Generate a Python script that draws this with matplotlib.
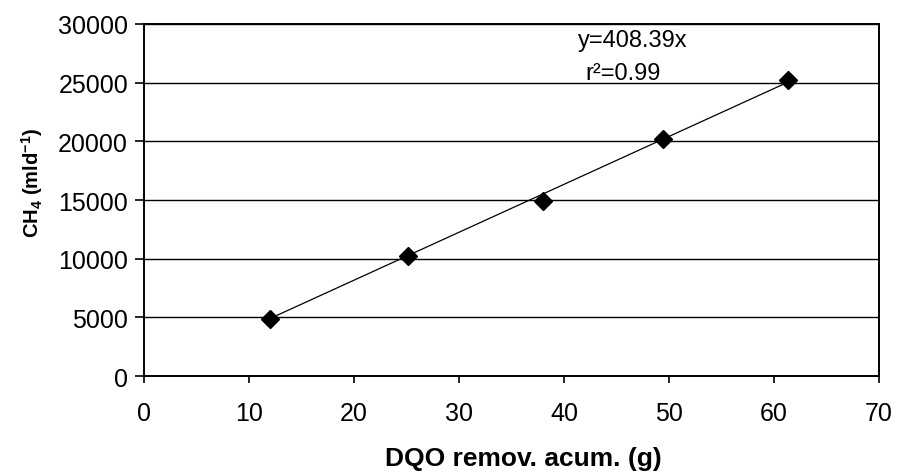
import matplotlib
matplotlib.use("Agg")
import matplotlib.pyplot as plt
import numpy as np

plt.rcParams["font.family"] = ["Liberation Sans", "DejaVu Sans"]
plt.rcParams["mathtext.fontset"] = "custom"
plt.rcParams["mathtext.rm"] = "Liberation Sans"
plt.rcParams["mathtext.bf"] = "Liberation Sans:bold"

# Accumulated COD removal (g) and methane volume (ml d^-1)
dqo_removed = [12.0, 25.1, 38.0, 49.4, 61.3]
ch4_volume = [4900, 10250, 14950, 20200, 25250]

slope = 408.39
x_ticks = [0, 10, 20, 30, 40, 50, 60, 70]
y_ticks = [0, 5000, 10000, 15000, 20000, 25000, 30000]

fig = plt.figure(figsize=(8.99, 4.77), dpi=100)
ax = fig.add_axes([0.1602, 0.2096, 0.8176, 0.738])

ax.set_xlim(0, 70)
ax.set_ylim(0, 30000)
ax.set_xticks(x_ticks)
ax.set_yticks(y_ticks)

ax.grid(axis="y", color="black", linewidth=1.0)
ax.set_axisbelow(True)

# linear fit through the origin
fit_x = np.array([dqo_removed[0], dqo_removed[-1]])
ax.plot(fit_x, slope * fit_x, color="black", linewidth=0.9, zorder=3)

ax.plot(dqo_removed, ch4_volume, linestyle="none", marker="D",
        markersize=9, color="black", zorder=4)

for s in ax.spines.values():
    s.set_linewidth(1.4)
    s.set_color("black")

ax.tick_params(axis="y", direction="out", length=6.5, width=1.2,
               labelsize=18, pad=5, colors="black")
ax.tick_params(axis="x", direction="out", length=5, width=1.2,
               labelsize=18, pad=13, colors="black")

ax.set_xlabel("DQO remov. acum. (g)", fontsize=19, fontweight="bold")
ax.xaxis.set_label_coords(0.516, -0.198)
ax.set_ylabel(r"CH$_\mathbf{4}$ (mld$^{\mathbf{-1}}$)", fontsize=14.5,
              fontweight="bold")
ax.yaxis.set_label_coords(-0.135, 0.551)

ax.text(46.5, 28150, "y=408.39x", ha="center", va="baseline", fontsize=17)
ax.text(45.6, 25320, "r²=0.99", ha="center", va="baseline", fontsize=17)

fig.savefig("out.png", dpi=100)
